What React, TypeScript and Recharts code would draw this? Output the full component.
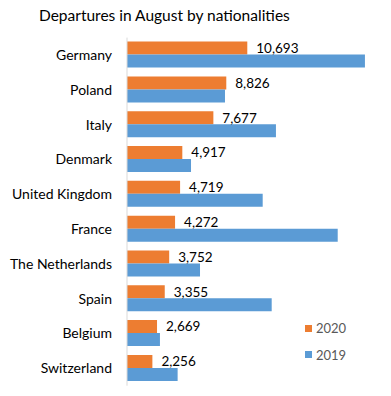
import React from 'react';
import { BarChart, Bar, XAxis, YAxis, LabelList } from 'recharts';

const categories = ['Germany', 'Poland', 'Italy', 'Denmark', 'United Kingdom', 'France', 'The Netherlands', 'Spain', 'Belgium', 'Switzerland'];
const values2020 = [10693, 8826, 7677, 4917, 4719, 4272, 3752, 3355, 2669, 2256];
const values2019 = [21150, 8710, 13240, 5690, 12060, 18730, 6490, 12860, 2930, 4500];
const seriesNames = ['2020', '2019'];
const title = 'Departures in August by nationalities';

const ORANGE = '#ED7D31';
const BLUE = '#5B9BD5';
const FONT = 'Lato, "Open Sans", sans-serif';

const data = categories.map((c, i) => ({ name: c, y2020: values2020[i], y2019: values2019[i] }));

const fmt = (v: any) => Number(v).toLocaleString('en-US');

const LegendBox = () => (
  <div style={{ position: 'absolute', left: 305, top: 315, fontFamily: FONT, fontSize: 13, color: '#595959' }}>
    {[{ n: seriesNames[0], c: ORANGE }, { n: seriesNames[1], c: BLUE }].map((it) => (
      <div key={it.n} style={{ display: 'flex', alignItems: 'center', height: 26.5 }}>
        <span style={{ display: 'inline-block', width: 7, height: 7, background: it.c, marginRight: 4 }} />
        <span>{it.n}</span>
      </div>
    ))}
  </div>
);

export default function App() {
  return (
    <div style={{ position: 'absolute', left: 0, top: 0, width: 391, height: 396, background: '#fff' }}>
      <div style={{ position: 'absolute', left: 39, top: 6, fontFamily: FONT, fontSize: 15.5, color: '#000', whiteSpace: 'nowrap' }}>
        {title}
      </div>
      <BarChart
        width={391}
        height={396}
        data={data}
        layout="vertical"
        margin={{ top: 37.6, right: 16.5, bottom: 10.3, left: 0 }}
        barGap={0}
        barSize={13}
      >
        <XAxis type="number" domain={[0, 22000]} hide />
        <YAxis
          type="category"
          dataKey="name"
          width={127}
          tickLine={false}
          tickSize={0}
          tickMargin={15}
          axisLine={{ stroke: '#d9d9d9' }}
          tick={{ fill: '#000', fontSize: 14, fontFamily: FONT }}
          interval={0}
        />
        <Bar dataKey="y2020" name={seriesNames[0]} fill={ORANGE} isAnimationActive={false}>
          <LabelList dataKey="y2020" position="right" offset={9} formatter={fmt} style={{ fill: '#000', fontSize: 13.5, fontFamily: FONT }} />
        </Bar>
        <Bar dataKey="y2019" name={seriesNames[1]} fill={BLUE} isAnimationActive={false} />
      </BarChart>
      <LegendBox />
    </div>
  );
}
